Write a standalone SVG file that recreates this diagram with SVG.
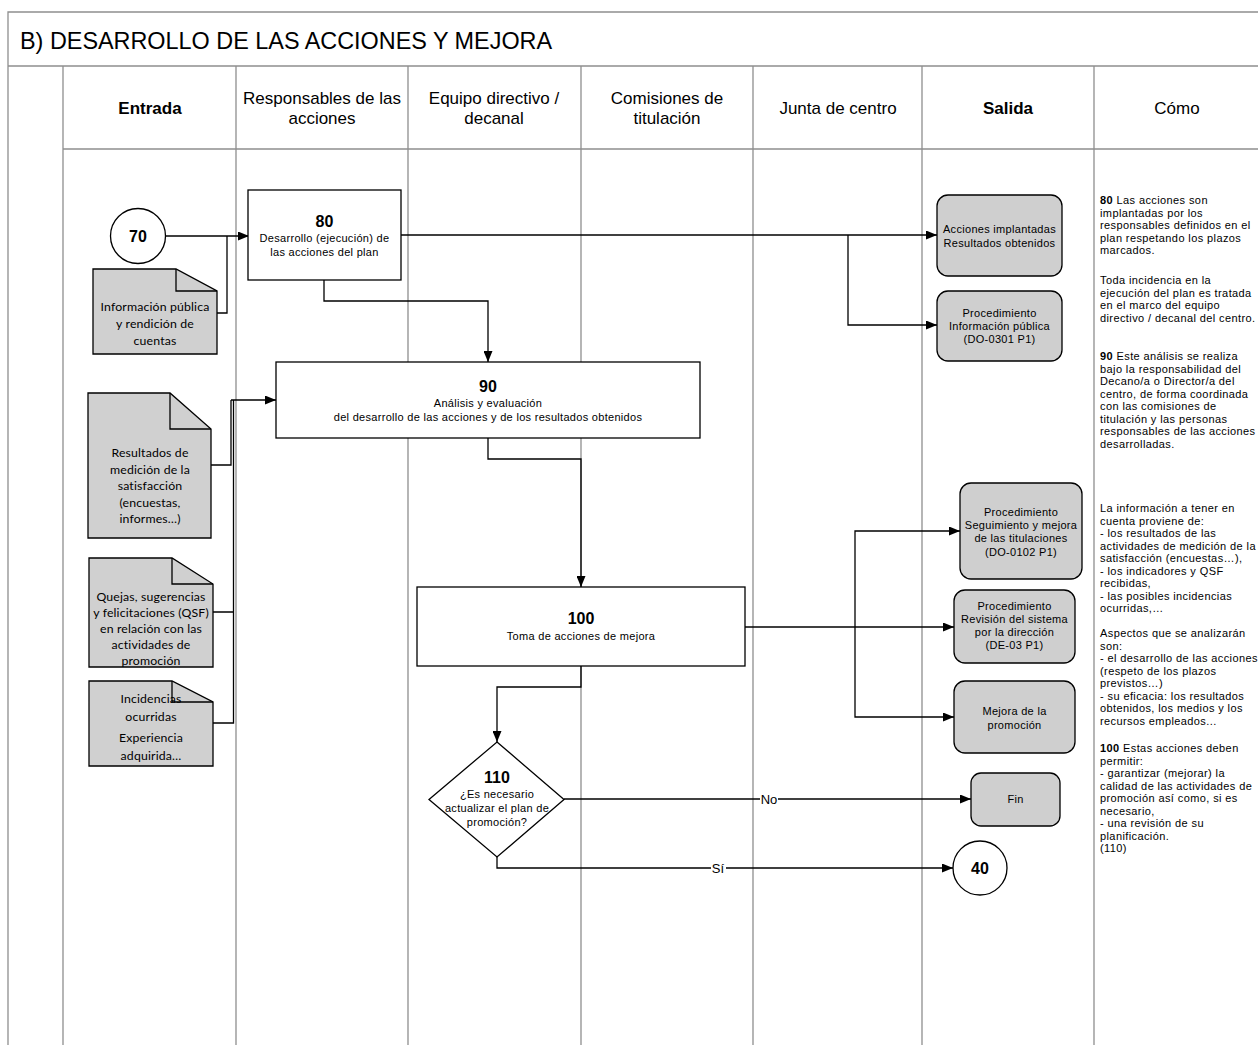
<svg xmlns="http://www.w3.org/2000/svg" width="1258" height="1045" viewBox="0 0 1258 1045">
<defs>
<marker id="ah" markerUnits="userSpaceOnUse" markerWidth="11" markerHeight="9" refX="11" refY="4.5" orient="auto"><path d="M0,0 L11,4.5 L0,9 Z" fill="#000"/></marker>
<style>
.lane{stroke:#8f8f8f;stroke-width:1.3;fill:none}
.box{fill:#fff;stroke:#000;stroke-width:1.3}
.doc{fill:#d0d0d0;stroke:#000;stroke-width:1.3}
.out{fill:#cfcfcf;stroke:#000;stroke-width:1.3}
.c{stroke:#000;stroke-width:1.3;fill:none}
.a{marker-end:url(#ah)}
text{font-family:"Liberation Sans",Arial,sans-serif;fill:#000}
.t{font-size:23.4px}
.h{font-size:17px;text-anchor:middle}
.hb{font-size:17px;font-weight:bold;text-anchor:middle}
.n{font-size:16px;font-weight:bold;text-anchor:middle}
.s{font-size:11px;letter-spacing:0.3px;text-anchor:middle}
.d{font-family:Lato,"Open Sans",sans-serif;font-size:12.3px;letter-spacing:0.15px;text-anchor:middle}
.r{font-size:11px;letter-spacing:0.4px}
.lb{font-size:13px;text-anchor:middle}
</style>
</defs>
<rect width="1258" height="1045" fill="#fff"/>
<g id="frame">
<path class="lane" d="M8,1045 V12 H1258 M8,66 H1258 M63,149 H1258"/>
<path class="lane" d="M63,66 V1045 M236,66 V1045 M408,66 V1045 M581,66 V1045 M753,66 V1045 M922,66 V1045 M1094,66 V1045"/>
<text class="t" x="20" y="49">B) DESARROLLO DE LAS ACCIONES Y MEJORA</text>
<text class="hb" x="150" y="114">Entrada</text>
<text class="h" x="322" y="104">Responsables de las</text>
<text class="h" x="322" y="124">acciones</text>
<text class="h" x="494" y="104">Equipo directivo /</text>
<text class="h" x="494" y="124">decanal</text>
<text class="h" x="667" y="104">Comisiones de</text>
<text class="h" x="667" y="124">titulación</text>
<text class="h" x="838" y="114">Junta de centro</text>
<text class="hb" x="1008" y="114">Salida</text>
<text class="h" x="1177" y="114">Cómo</text>
</g>
<g id="connectors">
<path class="c a" d="M165.5,236 H249"/>
<path class="c" d="M217,313 H227 V236"/>
<path class="c a" d="M401,235 H937"/>
<path class="c a" d="M848,235 V325 H937"/>
<path class="c a" d="M324,280 V301 H488 V362"/>
<path class="c" d="M211,465 H231 V400"/>
<path class="c" d="M213,612 H233.5 M213,723 H233.5 V400"/>
<path class="c a" d="M231,400 H276"/>
<path class="c a" d="M488,438 V459 H581 V587"/>
<path class="c a" d="M581,666 V687 H497 V742"/>
<path class="c a" d="M745,627 H954"/>
<path class="c a" d="M855,627 V531 H960"/>
<path class="c a" d="M855,627 V717 H954"/>
<path class="c a" d="M564,799 H971"/>
<path class="c a" d="M497,857 V868 H953"/>
<rect x="760" y="791" width="18" height="16" fill="#fff"/>
<text class="lb" x="769" y="804">No</text>
<rect x="711" y="860" width="15" height="16" fill="#fff"/>
<text class="lb" x="718" y="873">Sí</text>
</g>
<g id="n70">
<circle cx="138" cy="236" r="27.5" class="box"/>
<text class="n" x="138" y="242">70</text>
</g>
<g id="doc-info">
<path class="doc" d="M93,269 H176 L217,291 V354 H93 Z"/>
<path class="c" d="M176,269 V291 H217"/>
<text class="d" x="155" y="311">Información pública</text>
<text class="d" x="155" y="328">y rendición de</text>
<text class="d" x="155" y="345">cuentas</text>
</g>
<g id="n80">
<rect class="box" x="248" y="190" width="153" height="90"/>
<text class="n" x="324.5" y="227">80</text>
<text class="s" x="324.5" y="242">Desarrollo (ejecución) de</text>
<text class="s" x="324.5" y="256">las acciones del plan</text>
</g>
<g id="n90">
<rect class="box" x="276" y="362" width="424" height="76"/>
<text class="n" x="488" y="392">90</text>
<text class="s" x="488" y="407">Análisis y evaluación</text>
<text class="s" x="488" y="421">del desarrollo de las acciones y de los resultados obtenidos</text>
</g>
<g id="doc-resultados">
<path class="doc" d="M88,393 H170 L211,429 V538 H88 Z"/>
<path class="c" d="M170,393 V429 H211"/>
<text class="d" x="150" y="457">Resultados de</text>
<text class="d" x="150" y="473.5">medición de la</text>
<text class="d" x="150" y="490">satisfacción</text>
<text class="d" x="150" y="506.5">(encuestas,</text>
<text class="d" x="150" y="523">informes…)</text>
</g>
<g id="doc-qsf">
<path class="doc" d="M89,558 H172 L213,584 V667 H89 Z"/>
<path class="c" d="M172,558 V584 H213"/>
<text class="d" x="151" y="601">Quejas, sugerencias</text>
<text class="d" x="151" y="617">y felicitaciones (QSF)</text>
<text class="d" x="151" y="633">en relación con las</text>
<text class="d" x="151" y="649">actividades de</text>
<text class="d" x="151" y="665">promoción</text>
</g>
<g id="doc-incidencias">
<path class="doc" d="M89,681 H172 L213,702 V766 H89 Z"/>
<path class="c" d="M172,681 V702 H213"/>
<text class="d" x="151" y="703">Incidencias</text>
<text class="d" x="151" y="721">ocurridas</text>
<text class="d" x="151" y="742">Experiencia</text>
<text class="d" x="151" y="760">adquirida…</text>
</g>
<g id="n100">
<rect class="box" x="417" y="587" width="328" height="79"/>
<text class="n" x="581" y="624">100</text>
<text class="s" x="581" y="640">Toma de acciones de mejora</text>
</g>
<g id="n110">
<path class="box" d="M497,742 L564,799.5 L497,857 L429,799.5 Z"/>
<text class="n" x="497" y="783">110</text>
<text class="s" x="497" y="798">¿Es necesario</text>
<text class="s" x="497" y="812">actualizar el plan de</text>
<text class="s" x="497" y="826">promoción?</text>
</g>
<g id="out-acciones">
<rect class="out" x="937" y="195" width="125" height="81" rx="11"/>
<text class="s" x="999.5" y="233">Acciones implantadas</text>
<text class="s" x="999.5" y="247">Resultados obtenidos</text>
</g>
<g id="out-infopublica">
<rect class="out" x="937" y="291" width="125" height="70" rx="11"/>
<text class="s" x="999.5" y="317">Procedimiento</text>
<text class="s" x="999.5" y="330">Información pública</text>
<text class="s" x="999.5" y="343">(DO-0301 P1)</text>
</g>
<g id="out-seguimiento">
<rect class="out" x="960" y="483" width="122" height="96" rx="11"/>
<text class="s" x="1021" y="516">Procedimiento</text>
<text class="s" x="1021" y="529">Seguimiento y mejora</text>
<text class="s" x="1021" y="542">de las titulaciones</text>
<text class="s" x="1021" y="556">(DO-0102 P1)</text>
</g>
<g id="out-revision">
<rect class="out" x="954" y="590" width="121" height="73" rx="11"/>
<text class="s" x="1014.5" y="610">Procedimiento</text>
<text class="s" x="1014.5" y="623">Revisión del sistema</text>
<text class="s" x="1014.5" y="636">por la dirección</text>
<text class="s" x="1014.5" y="649">(DE-03 P1)</text>
</g>
<g id="out-mejora">
<rect class="out" x="954" y="681" width="121" height="72" rx="11"/>
<text class="s" x="1014.5" y="715">Mejora de la</text>
<text class="s" x="1014.5" y="729">promoción</text>
</g>
<g id="out-fin">
<rect class="out" x="971" y="773" width="89" height="53" rx="10"/>
<text class="s" x="1015.5" y="803">Fin</text>
</g>
<g id="n40">
<circle cx="980" cy="868" r="27" class="box"/>
<text class="n" x="980" y="874">40</text>
</g>
<g id="como">
<text class="r" x="1100" y="204"><tspan font-weight="bold">80</tspan>  Las acciones son</text>
<text class="r" x="1100" y="216.5">implantadas por los</text>
<text class="r" x="1100" y="229">responsables definidos en el</text>
<text class="r" x="1100" y="241.5">plan respetando los plazos</text>
<text class="r" x="1100" y="254">marcados.</text>
<text class="r" x="1100" y="284">Toda incidencia en la</text>
<text class="r" x="1100" y="296.5">ejecución del plan es tratada</text>
<text class="r" x="1100" y="309">en el marco del equipo</text>
<text class="r" x="1100" y="321.5">directivo / decanal  del centro.</text>
<text class="r" x="1100" y="360"><tspan font-weight="bold">90</tspan>  Este análisis se realiza</text>
<text class="r" x="1100" y="372.5">bajo la responsabilidad del</text>
<text class="r" x="1100" y="385">Decano/a o Director/a del</text>
<text class="r" x="1100" y="397.5">centro, de forma coordinada</text>
<text class="r" x="1100" y="410">con las comisiones de</text>
<text class="r" x="1100" y="422.5">titulación y las personas</text>
<text class="r" x="1100" y="435">responsables de las acciones</text>
<text class="r" x="1100" y="447.5">desarrolladas.</text>
<text class="r" x="1100" y="512">La información a tener en</text>
<text class="r" x="1100" y="524.5">cuenta proviene de:</text>
<text class="r" x="1100" y="537">- los resultados de las</text>
<text class="r" x="1100" y="549.5">actividades de medición de la</text>
<text class="r" x="1100" y="562">satisfacción (encuestas…),</text>
<text class="r" x="1100" y="574.5">- los indicadores y QSF</text>
<text class="r" x="1100" y="587">recibidas,</text>
<text class="r" x="1100" y="599.5">- las posibles incidencias</text>
<text class="r" x="1100" y="612">ocurridas,…</text>
<text class="r" x="1100" y="637">Aspectos que se analizarán</text>
<text class="r" x="1100" y="649.5">son:</text>
<text class="r" x="1100" y="662">- el desarrollo de las acciones</text>
<text class="r" x="1100" y="674.5">(respeto de los plazos</text>
<text class="r" x="1100" y="687">previstos…)</text>
<text class="r" x="1100" y="699.5">- su eficacia: los resultados</text>
<text class="r" x="1100" y="712">obtenidos, los medios y los</text>
<text class="r" x="1100" y="724.5">recursos empleados...</text>
<text class="r" x="1100" y="752"><tspan font-weight="bold">100</tspan>  Estas acciones deben</text>
<text class="r" x="1100" y="764.5">permitir:</text>
<text class="r" x="1100" y="777">- garantizar (mejorar) la</text>
<text class="r" x="1100" y="789.5">calidad de las actividades de</text>
<text class="r" x="1100" y="802">promoción así como, si es</text>
<text class="r" x="1100" y="814.5">necesario,</text>
<text class="r" x="1100" y="827">- una revisión de su</text>
<text class="r" x="1100" y="839.5">planificación.</text>
<text class="r" x="1100" y="852">(110)</text>
</g>
</svg>
